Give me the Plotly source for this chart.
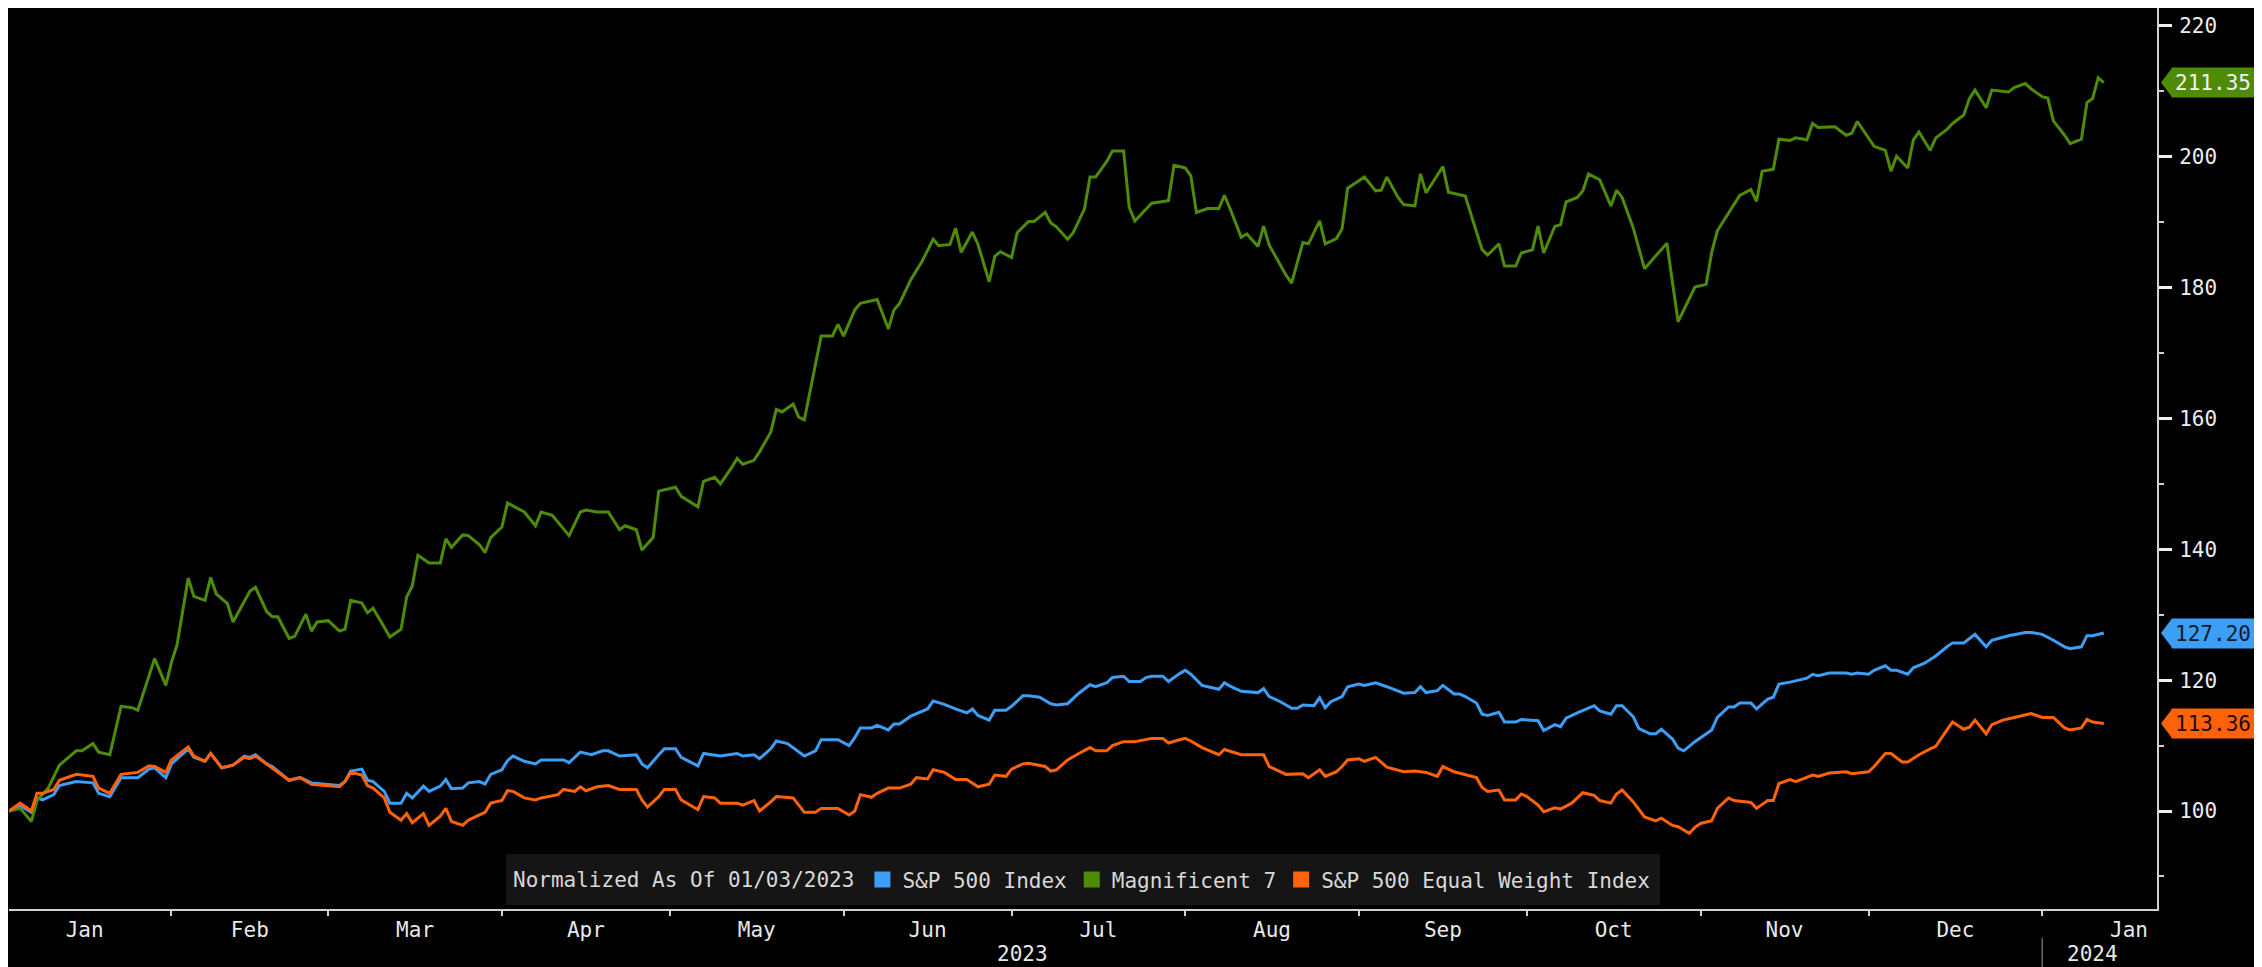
import plotly.graph_objects as go

# Magnificent 7 (normalized, 01/03/2023 = 100)
mag7_dates = [
    "2023-01-03", "2023-01-05", "2023-01-07", "2023-01-08", "2023-01-10", "2023-01-12", "2023-01-15", "2023-01-16",
    "2023-01-18", "2023-01-19", "2023-01-21", "2023-01-23", "2023-01-25", "2023-01-26", "2023-01-29", "2023-01-31",
    "2023-02-01", "2023-02-02", "2023-02-04", "2023-02-05", "2023-02-07", "2023-02-08", "2023-02-09", "2023-02-11",
    "2023-02-12", "2023-02-15", "2023-02-16", "2023-02-18", "2023-02-19", "2023-02-20", "2023-02-22", "2023-02-23",
    "2023-02-25", "2023-02-26", "2023-02-27", "2023-03-01", "2023-03-03", "2023-03-04", "2023-03-05", "2023-03-07",
    "2023-03-08", "2023-03-09", "2023-03-11", "2023-03-12", "2023-03-14", "2023-03-15", "2023-03-16", "2023-03-17",
    "2023-03-19", "2023-03-21", "2023-03-22", "2023-03-23", "2023-03-25", "2023-03-26", "2023-03-28", "2023-03-29",
    "2023-03-30", "2023-04-01", "2023-04-02", "2023-04-04", "2023-04-05", "2023-04-07", "2023-04-08", "2023-04-10",
    "2023-04-13", "2023-04-15", "2023-04-16", "2023-04-18", "2023-04-20", "2023-04-22", "2023-04-23", "2023-04-25",
    "2023-04-26", "2023-04-28", "2023-04-29", "2023-05-02", "2023-05-03", "2023-05-06", "2023-05-07", "2023-05-09",
    "2023-05-10", "2023-05-12", "2023-05-13", "2023-05-14", "2023-05-16", "2023-05-17", "2023-05-19", "2023-05-20",
    "2023-05-21", "2023-05-23", "2023-05-24", "2023-05-25", "2023-05-27", "2023-05-28", "2023-05-30", "2023-05-31",
    "2023-06-01", "2023-06-03", "2023-06-04", "2023-06-07", "2023-06-09", "2023-06-10", "2023-06-11", "2023-06-13",
    "2023-06-15", "2023-06-17", "2023-06-18", "2023-06-20", "2023-06-21", "2023-06-22", "2023-06-24", "2023-06-25",
    "2023-06-27", "2023-06-28", "2023-06-29", "2023-07-01", "2023-07-02", "2023-07-04", "2023-07-05", "2023-07-07",
    "2023-07-08", "2023-07-09", "2023-07-11", "2023-07-12", "2023-07-14", "2023-07-15", "2023-07-16", "2023-07-18",
    "2023-07-19", "2023-07-21", "2023-07-22", "2023-07-23", "2023-07-26", "2023-07-29", "2023-07-30", "2023-08-01",
    "2023-08-02", "2023-08-03", "2023-08-05", "2023-08-07", "2023-08-08", "2023-08-09", "2023-08-11", "2023-08-12",
    "2023-08-14", "2023-08-15", "2023-08-16", "2023-08-19", "2023-08-20", "2023-08-22", "2023-08-23", "2023-08-25",
    "2023-08-26", "2023-08-28", "2023-08-29", "2023-08-30", "2023-09-02", "2023-09-04", "2023-09-05", "2023-09-06",
    "2023-09-08", "2023-09-09", "2023-09-11", "2023-09-12", "2023-09-13", "2023-09-16", "2023-09-17", "2023-09-20",
    "2023-09-23", "2023-09-24", "2023-09-26", "2023-09-27", "2023-09-29", "2023-09-30", "2023-10-02", "2023-10-03",
    "2023-10-04", "2023-10-06", "2023-10-07", "2023-10-08", "2023-10-10", "2023-10-11", "2023-10-12", "2023-10-14",
    "2023-10-16", "2023-10-17", "2023-10-18", "2023-10-20", "2023-10-22", "2023-10-26", "2023-10-28", "2023-10-30",
    "2023-10-31", "2023-11-02", "2023-11-03", "2023-11-04", "2023-11-08", "2023-11-10", "2023-11-11", "2023-11-12",
    "2023-11-14", "2023-11-15", "2023-11-17", "2023-11-18", "2023-11-20", "2023-11-21", "2023-11-22", "2023-11-25",
    "2023-11-27", "2023-11-28", "2023-11-29", "2023-12-02", "2023-12-04", "2023-12-05", "2023-12-06", "2023-12-08",
    "2023-12-09", "2023-12-10", "2023-12-12", "2023-12-13", "2023-12-15", "2023-12-16", "2023-12-18", "2023-12-19",
    "2023-12-20", "2023-12-22", "2023-12-23", "2023-12-26", "2023-12-27", "2023-12-29", "2023-12-30", "2024-01-01",
    "2024-01-02", "2024-01-03", "2024-01-05", "2024-01-06", "2024-01-08", "2024-01-09", "2024-01-10", "2024-01-11",
    "2024-01-12",
]
mag7_values = [
    100.0, 100.4, 98.4, 101.6, 103.5, 107.0, 109.2, 109.2,
    110.3, 109.0, 108.6, 116.0, 115.8, 115.4, 123.3, 119.2,
    122.7, 125.4, 135.6, 132.8, 132.2, 135.7, 133.2, 131.7,
    128.9, 133.6, 134.2, 130.5, 129.7, 129.7, 126.4, 126.7,
    130.1, 127.5, 128.9, 129.1, 127.5, 127.8, 132.2, 131.8,
    130.3, 131.0, 128.1, 126.6, 127.8, 132.7, 134.4, 139.1,
    137.9, 137.9, 141.6, 140.3, 142.2, 142.1, 140.7, 139.5,
    141.8, 143.4, 147.1, 146.1, 145.7, 143.6, 145.7, 145.2,
    142.1, 145.7, 146.0, 145.7, 145.7, 143.0, 143.6, 143.0,
    139.9, 141.8, 148.9, 149.5, 148.1, 146.5, 150.4, 151.0,
    150.0, 152.5, 153.9, 153.0, 153.6, 154.9, 157.9, 161.4,
    161.0, 162.2, 160.2, 159.8, 168.0, 172.6, 172.6, 174.4,
    172.6, 176.6, 177.6, 178.2, 173.7, 176.6, 177.6, 181.2,
    184.0, 187.4, 186.4, 186.6, 189.1, 185.4, 188.5, 186.6,
    180.9, 184.8, 185.5, 184.6, 188.4, 190.1, 190.1, 191.5,
    189.9, 189.3, 187.4, 188.4, 192.0, 196.9, 196.9, 199.3,
    200.9, 200.9, 192.3, 190.2, 192.9, 193.3, 198.7, 198.3,
    197.1, 191.5, 192.1, 192.1, 194.1, 192.1, 187.7, 188.2,
    186.3, 189.4, 186.5, 181.9, 180.7, 186.9, 186.7, 190.2,
    186.7, 187.5, 189.0, 195.2, 196.9, 194.8, 194.9, 196.9,
    193.8, 192.7, 192.5, 197.4, 194.5, 198.5, 194.6, 194.0,
    185.8, 185.0, 186.7, 183.3, 183.3, 185.3, 185.8, 189.4,
    185.3, 189.4, 189.6, 193.1, 193.8, 194.8, 197.4, 196.5,
    192.5, 194.9, 193.8, 189.1, 182.9, 186.8, 174.8, 178.2,
    180.1, 180.5, 185.4, 188.7, 194.1, 195.0, 193.2, 197.8,
    198.1, 202.7, 202.5, 202.9, 202.6, 205.1, 204.5, 204.6,
    203.3, 203.6, 205.4, 201.6, 201.0, 197.8, 200.1, 198.3,
    202.6, 203.8, 201.0, 202.9, 204.2, 205.1, 206.4, 208.9,
    210.2, 207.5, 210.2, 209.9, 210.6, 211.2, 210.4, 209.2,
    209.0, 205.5, 203.3, 202.0, 202.7, 208.3, 208.9, 212.1,
    211.35,
]

# S&P 500 Index
spx_dates = [
    "2023-01-03", "2023-01-05", "2023-01-07", "2023-01-08", "2023-01-09", "2023-01-11", "2023-01-12", "2023-01-15",
    "2023-01-18", "2023-01-19", "2023-01-21", "2023-01-23", "2023-01-26", "2023-01-28", "2023-01-29", "2023-01-31",
    "2023-02-01", "2023-02-04", "2023-02-05", "2023-02-07", "2023-02-08", "2023-02-10", "2023-02-12", "2023-02-14",
    "2023-02-15", "2023-02-16", "2023-02-18", "2023-02-19", "2023-02-22", "2023-02-24", "2023-02-26", "2023-03-03",
    "2023-03-04", "2023-03-05", "2023-03-07", "2023-03-08", "2023-03-09", "2023-03-11", "2023-03-12", "2023-03-14",
    "2023-03-15", "2023-03-16", "2023-03-18", "2023-03-19", "2023-03-21", "2023-03-22", "2023-03-23", "2023-03-25",
    "2023-03-26", "2023-03-28", "2023-03-29", "2023-03-30", "2023-04-01", "2023-04-02", "2023-04-03", "2023-04-05",
    "2023-04-07", "2023-04-08", "2023-04-12", "2023-04-13", "2023-04-15", "2023-04-17", "2023-04-19", "2023-04-20",
    "2023-04-22", "2023-04-25", "2023-04-26", "2023-04-27", "2023-04-29", "2023-04-30", "2023-05-02", "2023-05-03",
    "2023-05-06", "2023-05-07", "2023-05-10", "2023-05-13", "2023-05-14", "2023-05-16", "2023-05-17", "2023-05-19",
    "2023-05-20", "2023-05-22", "2023-05-25", "2023-05-27", "2023-05-28", "2023-05-31", "2023-06-02", "2023-06-03",
    "2023-06-04", "2023-06-06", "2023-06-07", "2023-06-09", "2023-06-10", "2023-06-11", "2023-06-13", "2023-06-16",
    "2023-06-17", "2023-06-19", "2023-06-21", "2023-06-23", "2023-06-24", "2023-06-25", "2023-06-27", "2023-06-28",
    "2023-06-30", "2023-07-01", "2023-07-03", "2023-07-04", "2023-07-06", "2023-07-08", "2023-07-09", "2023-07-11",
    "2023-07-13", "2023-07-15", "2023-07-16", "2023-07-18", "2023-07-19", "2023-07-21", "2023-07-22", "2023-07-24",
    "2023-07-25", "2023-07-26", "2023-07-28", "2023-07-29", "2023-07-31", "2023-08-01", "2023-08-02", "2023-08-04",
    "2023-08-07", "2023-08-08", "2023-08-09", "2023-08-11", "2023-08-14", "2023-08-15", "2023-08-16", "2023-08-18",
    "2023-08-20", "2023-08-21", "2023-08-22", "2023-08-24", "2023-08-25", "2023-08-26", "2023-08-27", "2023-08-29",
    "2023-08-30", "2023-09-01", "2023-09-02", "2023-09-04", "2023-09-06", "2023-09-08", "2023-09-09", "2023-09-11",
    "2023-09-12", "2023-09-13", "2023-09-15", "2023-09-16", "2023-09-18", "2023-09-19", "2023-09-20", "2023-09-22",
    "2023-09-23", "2023-09-24", "2023-09-26", "2023-09-27", "2023-09-29", "2023-09-30", "2023-10-03", "2023-10-04",
    "2023-10-06", "2023-10-07", "2023-10-08", "2023-10-10", "2023-10-13", "2023-10-14", "2023-10-16", "2023-10-17",
    "2023-10-18", "2023-10-20", "2023-10-21", "2023-10-23", "2023-10-24", "2023-10-25", "2023-10-27", "2023-10-28",
    "2023-10-29", "2023-10-31", "2023-11-01", "2023-11-03", "2023-11-04", "2023-11-06", "2023-11-07", "2023-11-08",
    "2023-11-10", "2023-11-11", "2023-11-13", "2023-11-14", "2023-11-15", "2023-11-17", "2023-11-20", "2023-11-21",
    "2023-11-22", "2023-11-24", "2023-11-27", "2023-11-28", "2023-11-29", "2023-12-01", "2023-12-02", "2023-12-04",
    "2023-12-05", "2023-12-06", "2023-12-08", "2023-12-09", "2023-12-11", "2023-12-13", "2023-12-15", "2023-12-16",
    "2023-12-18", "2023-12-19", "2023-12-20", "2023-12-22", "2023-12-23", "2023-12-26", "2023-12-29", "2023-12-30",
    "2024-01-01", "2024-01-03", "2024-01-05", "2024-01-06", "2024-01-08", "2024-01-09", "2024-01-10", "2024-01-12",
]
spx_values = [
    100.0, 100.8, 99.8, 102.0, 101.7, 102.5, 103.9, 104.5,
    104.3, 102.7, 102.2, 105.1, 105.1, 106.4, 106.6, 105.1,
    107.2, 109.5, 108.2, 107.6, 108.8, 106.6, 107.0, 108.4,
    108.2, 108.6, 107.2, 106.8, 104.7, 105.1, 104.3, 103.9,
    104.5, 106.1, 106.4, 104.7, 104.5, 103.0, 101.2, 101.2,
    102.7, 102.0, 103.8, 103.0, 103.8, 104.8, 103.4, 103.5,
    104.3, 104.5, 104.1, 105.6, 106.3, 107.7, 108.4, 107.6,
    107.2, 107.8, 107.8, 107.4, 109.0, 108.6, 109.2, 109.2,
    108.4, 108.6, 107.2, 106.6, 108.6, 109.5, 109.5, 108.2,
    106.9, 108.8, 108.4, 108.8, 108.4, 108.6, 108.0, 109.5,
    110.7, 110.3, 108.4, 109.2, 110.9, 110.9, 110.0, 111.2,
    112.7, 112.7, 113.1, 112.4, 113.3, 113.3, 114.5, 115.6,
    116.8, 116.3, 115.6, 115.0, 115.6, 114.6, 113.9, 115.4,
    115.4, 116.0, 117.6, 117.6, 117.4, 116.4, 116.2, 116.4,
    118.0, 119.3, 119.0, 119.6, 120.4, 120.6, 119.8, 119.8,
    120.4, 120.6, 120.6, 119.8, 121.0, 121.5, 120.9, 119.2,
    118.6, 119.6, 119.1, 118.3, 118.1, 118.7, 117.5, 116.7,
    115.7, 115.7, 116.2, 116.1, 117.3, 115.8, 116.7, 117.5,
    119.0, 119.4, 119.2, 119.6, 119.0, 118.3, 118.0, 118.1,
    119.0, 118.1, 118.4, 119.2, 117.9, 117.9, 117.5, 116.5,
    114.8, 114.6, 115.1, 113.6, 113.6, 114.0, 113.8, 112.3,
    113.2, 112.9, 114.2, 115.0, 116.1, 115.3, 114.8, 116.1,
    116.1, 114.4, 112.6, 111.8, 111.8, 112.5, 111.0, 109.6,
    109.2, 110.6, 111.2, 112.4, 114.3, 115.9, 115.9, 116.5,
    116.5, 115.6, 117.1, 117.4, 119.4, 119.7, 120.3, 120.9,
    120.7, 121.1, 121.1, 120.9, 121.1, 120.9, 121.5, 122.2,
    121.5, 121.5, 120.9, 121.9, 122.6, 123.7, 125.1, 125.7,
    125.7, 126.3, 127.0, 125.1, 126.1, 126.8, 127.3, 127.3,
    127.0, 126.1, 125.1, 124.8, 125.1, 126.8, 126.8, 127.20,
]

# S&P 500 Equal Weight Index
spw_dates = [
    "2023-01-03", "2023-01-05", "2023-01-07", "2023-01-08", "2023-01-09", "2023-01-11", "2023-01-12", "2023-01-15",
    "2023-01-18", "2023-01-19", "2023-01-21", "2023-01-23", "2023-01-26", "2023-01-28", "2023-01-29", "2023-01-31",
    "2023-02-01", "2023-02-04", "2023-02-05", "2023-02-07", "2023-02-08", "2023-02-10", "2023-02-12", "2023-02-14",
    "2023-02-15", "2023-02-16", "2023-02-18", "2023-02-19", "2023-02-22", "2023-02-24", "2023-02-26", "2023-03-03",
    "2023-03-04", "2023-03-05", "2023-03-07", "2023-03-08", "2023-03-09", "2023-03-11", "2023-03-12", "2023-03-14",
    "2023-03-15", "2023-03-16", "2023-03-18", "2023-03-19", "2023-03-21", "2023-03-22", "2023-03-23", "2023-03-25",
    "2023-03-26", "2023-03-28", "2023-03-29", "2023-03-30", "2023-04-01", "2023-04-02", "2023-04-03", "2023-04-05",
    "2023-04-07", "2023-04-08", "2023-04-11", "2023-04-12", "2023-04-14", "2023-04-15", "2023-04-16", "2023-04-18",
    "2023-04-20", "2023-04-22", "2023-04-25", "2023-04-26", "2023-04-27", "2023-04-29", "2023-04-30", "2023-05-02",
    "2023-05-03", "2023-05-06", "2023-05-07", "2023-05-09", "2023-05-10", "2023-05-13", "2023-05-14", "2023-05-16",
    "2023-05-17", "2023-05-19", "2023-05-20", "2023-05-23", "2023-05-25", "2023-05-27", "2023-05-28", "2023-05-31",
    "2023-06-02", "2023-06-03", "2023-06-04", "2023-06-06", "2023-06-07", "2023-06-09", "2023-06-11", "2023-06-13",
    "2023-06-14", "2023-06-16", "2023-06-17", "2023-06-19", "2023-06-21", "2023-06-23", "2023-06-24", "2023-06-25",
    "2023-06-27", "2023-06-28", "2023-06-30", "2023-07-01", "2023-07-03", "2023-07-04", "2023-07-07", "2023-07-08",
    "2023-07-09", "2023-07-11", "2023-07-13", "2023-07-15", "2023-07-16", "2023-07-18", "2023-07-19", "2023-07-21",
    "2023-07-23", "2023-07-26", "2023-07-28", "2023-07-29", "2023-07-31", "2023-08-01", "2023-08-02", "2023-08-04",
    "2023-08-07", "2023-08-08", "2023-08-11", "2023-08-15", "2023-08-16", "2023-08-19", "2023-08-22", "2023-08-23",
    "2023-08-25", "2023-08-26", "2023-08-28", "2023-08-29", "2023-08-30", "2023-09-01", "2023-09-02", "2023-09-04",
    "2023-09-06", "2023-09-09", "2023-09-11", "2023-09-13", "2023-09-15", "2023-09-16", "2023-09-18", "2023-09-20",
    "2023-09-22", "2023-09-23", "2023-09-24", "2023-09-26", "2023-09-27", "2023-09-29", "2023-09-30", "2023-10-01",
    "2023-10-03", "2023-10-04", "2023-10-06", "2023-10-07", "2023-10-09", "2023-10-11", "2023-10-13", "2023-10-14",
    "2023-10-16", "2023-10-17", "2023-10-18", "2023-10-20", "2023-10-22", "2023-10-24", "2023-10-25", "2023-10-27",
    "2023-10-28", "2023-10-30", "2023-10-31", "2023-11-01", "2023-11-03", "2023-11-04", "2023-11-06", "2023-11-07",
    "2023-11-10", "2023-11-11", "2023-11-13", "2023-11-14", "2023-11-15", "2023-11-17", "2023-11-18", "2023-11-21",
    "2023-11-22", "2023-11-24", "2023-11-27", "2023-11-28", "2023-12-01", "2023-12-02", "2023-12-04", "2023-12-05",
    "2023-12-07", "2023-12-08", "2023-12-10", "2023-12-12", "2023-12-13", "2023-12-15", "2023-12-16", "2023-12-18",
    "2023-12-19", "2023-12-20", "2023-12-22", "2023-12-23", "2023-12-25", "2023-12-27", "2023-12-30", "2024-01-01",
    "2024-01-03", "2024-01-05", "2024-01-06", "2024-01-08", "2024-01-09", "2024-01-10", "2024-01-12",
]
spw_values = [
    100.0, 101.2, 100.0, 102.7, 102.7, 103.3, 104.7, 105.6,
    105.3, 103.5, 102.7, 105.6, 105.9, 106.9, 106.8, 105.9,
    107.8, 109.8, 108.4, 107.6, 108.8, 106.6, 107.0, 108.2,
    108.0, 108.4, 107.2, 106.6, 104.7, 105.1, 104.1, 103.7,
    104.5, 105.9, 105.5, 103.9, 103.5, 102.0, 99.8, 98.6,
    99.6, 98.2, 99.6, 97.8, 99.2, 100.4, 98.4, 97.8,
    98.6, 99.4, 99.8, 101.2, 101.6, 103.1, 103.0, 102.0,
    101.7, 102.0, 102.5, 103.3, 103.0, 103.7, 103.1, 103.7,
    103.9, 103.3, 103.3, 101.7, 100.6, 102.2, 103.3, 103.3,
    101.7, 100.2, 102.2, 102.0, 101.2, 101.2, 100.9, 101.6,
    100.0, 101.4, 102.2, 102.0, 99.8, 99.8, 100.4, 100.4,
    99.4, 100.0, 102.5, 102.1, 102.7, 103.5, 103.5, 104.1,
    105.1, 104.9, 106.3, 105.9, 104.8, 104.8, 104.3, 103.7,
    104.1, 105.5, 105.3, 106.4, 107.2, 107.3, 106.8, 106.1,
    106.3, 107.8, 108.8, 109.7, 109.2, 109.2, 110.0, 110.6,
    110.6, 111.1, 111.1, 110.4, 110.9, 111.1, 110.7, 109.7,
    108.6, 109.4, 108.6, 108.6, 106.8, 105.6, 105.7, 105.1,
    106.3, 105.3, 106.0, 106.8, 107.8, 108.0, 107.6, 108.2,
    106.7, 106.0, 106.1, 105.9, 105.3, 106.8, 106.0, 105.6,
    105.1, 103.6, 103.0, 103.2, 101.7, 101.7, 102.6, 102.2,
    100.9, 99.9, 100.5, 100.3, 101.2, 102.8, 102.4, 101.6,
    101.2, 102.6, 103.2, 101.4, 99.1, 98.5, 98.9, 97.8,
    97.6, 96.6, 97.5, 98.1, 98.5, 100.4, 102.0, 101.6,
    101.3, 100.4, 101.6, 101.6, 104.2, 104.8, 104.5, 105.5,
    105.3, 105.8, 106.0, 105.7, 106.0, 106.8, 108.8, 108.8,
    107.5, 107.5, 108.6, 109.5, 109.9, 112.4, 113.6, 112.5,
    112.8, 113.9, 111.8, 113.2, 113.9, 114.3, 114.9, 114.3,
    114.3, 112.7, 112.4, 112.7, 114.0, 113.6, 113.36,
]

series = [
    ("S&P 500 Index", spx_dates, spx_values, "#3d9ef6", "#0d1a2a"),
    ("Magnificent 7", mag7_dates, mag7_values, "#4e8c08", "#f2f2f2"),
    ("S&P 500 Equal Weight Index", spw_dates, spw_values, "#ff6208", "#1c0c00"),
]

FONT = "DejaVu Sans Mono, monospace"

fig = go.Figure()

for name, dates, values, color, _ in series:
    fig.add_trace(go.Scatter(x=dates, y=values, mode="lines", name=name,
                             line=dict(color=color, width=3), showlegend=False,
                             hoverinfo="skip"))

# square swatches for the legend
for name, dates, values, color, _ in series:
    fig.add_trace(go.Scatter(x=[None], y=[None], mode="markers", name=name,
                             marker=dict(symbol="square", size=16, color=color)))

# last-value flags on the right axis
for name, dates, values, color, txt in series:
    fig.add_annotation(xref="paper", x=1, xanchor="left", xshift=14, yref="y", y=values[-1],
                       text=f"{values[-1]:.2f}", showarrow=False, bgcolor=color,
                       font=dict(color=txt, size=21), width=80, height=27, borderpad=1)
    fig.add_shape(type="path", xref="paper", yref="y", xsizemode="pixel", ysizemode="pixel",
                  xanchor=1, yanchor=values[-1], path="M4,0 L15,14.5 L15,-14.5 Z",
                  fillcolor=color, line_width=0)

# year labels under the month ticks
fig.add_annotation(xref="x", x="2023-07-03", yref="paper", y=0, yanchor="middle", yshift=-45,
                   text="2023", showarrow=False, font=dict(size=21, color="#e8e8e8"))
fig.add_annotation(xref="x", x="2024-01-10", yref="paper", y=0, yanchor="middle", yshift=-45,
                   text="2024", showarrow=False, font=dict(size=21, color="#e8e8e8"))
fig.add_shape(type="line", xref="x", x0="2024-01-01", x1="2024-01-01", yref="paper",
              y0=-0.032, y1=-0.066, line=dict(color="#9a9a9a", width=1))

fig.update_layout(
    width=2254, height=959,
    paper_bgcolor="black", plot_bgcolor="black",
    margin=dict(l=1, r=105, t=0, b=58),
    font=dict(family=FONT, size=21, color="#e8e8e8"),
    legend=dict(orientation="h", x=0.5, xanchor="center", y=0.004, yanchor="bottom",
                bgcolor="#151515", bordercolor="#151515", borderwidth=5,
                font=dict(size=21, color="#d8d8d8"),
                title=dict(text="Normalized As Of 01/03/2023", side="left",
                           font=dict(size=21, color="#d8d8d8"))),
    xaxis=dict(type="date", range=["2023-01-03", "2024-01-21 12:00"], showgrid=False,
               zeroline=False, dtick="M1", tick0="2023-01-01", ticklabelmode="period",
               tickformat="%b", ticks="outside", ticklen=5, tickwidth=1.5, tickcolor="#d0d0d0",
               ticklabelstandoff=-4, showline=True, linecolor="#d0d0d0", linewidth=2,
               tickfont=dict(size=21, color="#e8e8e8")),
    yaxis=dict(side="right", range=[85.02, 222.75], dtick=20, tick0=100, showgrid=False,
               zeroline=False, ticks="outside", ticklen=13, tickwidth=3, tickcolor="#f0f0f0",
               ticklabelstandoff=3, showline=True, linecolor="#d0d0d0", linewidth=2,
               tickfont=dict(size=21, color="#ececec"),
               minor=dict(dtick=10, ticks="outside", ticklen=5, tickwidth=1.5,
                          tickcolor="#d0d0d0")),
)

fig.write_html("out.html")
